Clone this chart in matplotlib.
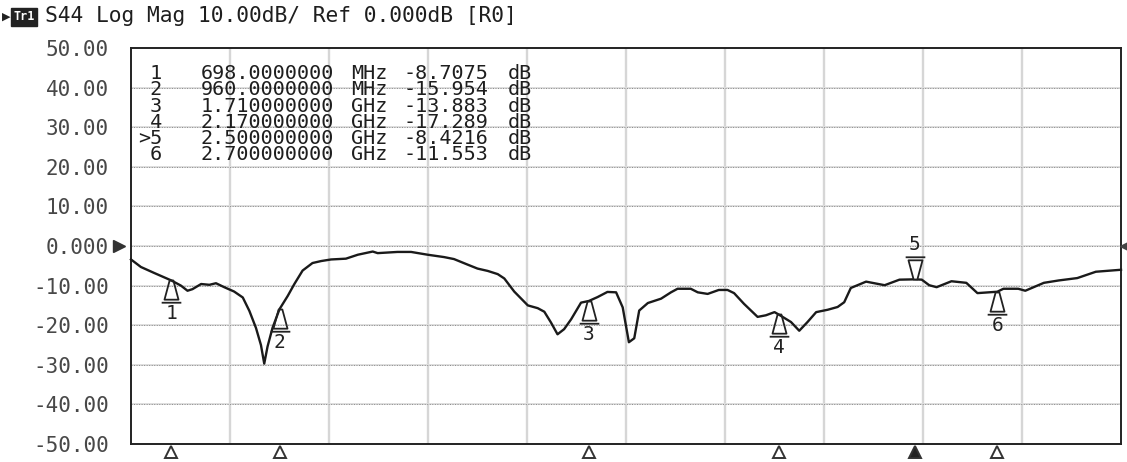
import matplotlib
matplotlib.use("Agg")
import matplotlib.pyplot as plt
from matplotlib.path import Path

# ---------------- data ----------------
freq_mhz = [600, 624, 656, 698, 721, 737, 749, 770, 790, 806, 826, 850, 871, 887, 903,
            915, 923, 931, 943, 960, 980, 996, 1016, 1040, 1061, 1085, 1121, 1150, 1186,
            1198, 1246, 1279, 1319, 1359, 1383, 1416, 1440, 1465, 1489, 1505, 1529, 1562,
            1586, 1602, 1618, 1634, 1650, 1667, 1691, 1710, 1731, 1755, 1776, 1792, 1807,
            1820, 1832, 1853, 1885, 1909, 1925, 1957, 1974, 1998, 2025, 2046, 2062, 2086,
            2119, 2139, 2160, 2170, 2200, 2220, 2240, 2261, 2289, 2313, 2329, 2345, 2382,
            2427, 2463, 2500, 2517, 2535, 2553, 2589, 2625, 2652, 2700, 2715, 2751, 2768,
            2813, 2849, 2894, 2939, 3000]
s44_db = [-3.4, -5.3, -6.8, -8.71, -10.0, -11.3, -10.9, -9.6, -9.8, -9.4, -10.4, -11.5, -13.0,
          -16.4, -20.7, -25.0, -29.7, -25.4, -20.7, -15.95, -12.6, -9.6, -6.2, -4.3, -3.8,
          -3.4, -3.2, -2.2, -1.4, -1.8, -1.5, -1.5, -2.2, -2.8, -3.3, -4.7, -5.7, -6.3, -7.1,
          -8.2, -11.5, -15.0, -15.7, -16.6, -19.3, -22.3, -21.0, -18.5, -14.3, -13.88, -12.9,
          -11.6, -11.7, -15.5, -24.3, -23.3, -16.3, -14.4, -13.3, -11.7, -10.8, -10.8, -11.7,
          -12.1, -11.1, -11.1, -11.9, -14.6, -17.9, -17.5, -16.7, -17.29, -19.2, -21.4, -19.2,
          -16.7, -16.1, -15.4, -14.2, -10.6, -9.0, -9.9, -8.5, -8.42, -8.5, -9.9, -10.4, -8.9,
          -9.3, -11.9, -11.55, -10.8, -10.8, -11.3, -9.3, -8.7, -8.1, -6.5, -6.0]

marker_ids = ["1", "2", "3", "4", "5", "6"]
marker_freq_mhz = [698, 960, 1710, 2170, 2500, 2700]
marker_db = [-8.7075, -15.954, -13.883, -17.289, -8.4216, -11.553]
marker_freq_text = ["698.0000000", "960.0000000", "1.710000000",
                    "2.170000000", "2.500000000", "2.700000000"]
marker_unit_text = ["MHz", "MHz", "GHz", "GHz", "GHz", "GHz"]
marker_db_text = ["-8.7075", "-15.954", "-13.883", "-17.289", "-8.4216", "-11.553"]
active_marker = "5"

y_ticks = [50, 40, 30, 20, 10, 0, -10, -20, -30, -40, -50]
y_tick_labels = ["50.00", "40.00", "30.00", "20.00", "10.00", "0.000",
                 "-10.00", "-20.00", "-30.00", "-40.00", "-50.00"]
x_start, x_stop, x_divs = 600, 3000, 10

title_text = "S44 Log Mag 10.00dB/ Ref 0.000dB [R0]"
trace_name = "Tr1"

# ---------------- figure ----------------
W, H = 1127, 462
fig = plt.figure(figsize=(W / 100, H / 100), dpi=100)
fig.patch.set_facecolor("white")
L, R, T, B = 131, 1121, 48, 444
ax = fig.add_axes([L / W, 1 - B / H, (R - L) / W, (B - T) / H])
ax.set_xlim(x_start, x_stop)
ax.set_ylim(-50, 50)
ax.set_facecolor("white")

mono = "DejaVu Sans Mono"

# grid
step = (x_stop - x_start) / x_divs
for i in range(1, x_divs):
    ax.axvline(x_start + i * step, color="#d6d6d6", lw=1.7, zorder=1)
for yv in y_ticks[1:-1]:
    ax.axhline(yv, color="#dedede", lw=1.4, zorder=1)
    ax.axhline(yv, color="#8a8a8a", lw=0.7, ls=(0, (1, 1.6)), zorder=1.1)

# trace
ax.plot(freq_mhz, s44_db, color="#1a1a1a", lw=1.7, zorder=3, clip_on=False)

# markers on trace
up_path = Path([(-0.08, 0), (0.08, 0), (0.3, -0.82), (-0.3, -0.82), (-0.08, 0),
                (-0.42, -0.95), (0.42, -0.95)],
               [Path.MOVETO, Path.LINETO, Path.LINETO, Path.LINETO, Path.CLOSEPOLY,
                Path.MOVETO, Path.LINETO])
down_path = Path([(x, -y) for x, y in up_path.vertices], up_path.codes)
for mid, f, d in zip(marker_ids, marker_freq_mhz, marker_db):
    if mid == active_marker:
        ax.plot([f], [d], marker=down_path, markersize=32, markerfacecolor="white",
                markeredgecolor="#222", markeredgewidth=1.3, zorder=4, ls="none")
        ax.annotate(mid, (f, d), xytext=(0, 25), textcoords="offset points",
                    ha="center", va="center", fontsize=14, family=mono, color="#222")
    else:
        ax.plot([f], [d], marker=up_path, markersize=32, markerfacecolor="none",
                markeredgecolor="#222", markeredgewidth=1.3, zorder=4, ls="none")
        ax.annotate(mid, (f, d), xytext=(0, -24), textcoords="offset points",
                    ha="center", va="center", fontsize=14, family=mono, color="#222")

# bottom marker indicators
xt = ax.get_xaxis_transform()
for mid, f in zip(marker_ids, marker_freq_mhz):
    filled = mid == active_marker
    ax.plot([f], [-0.021], marker="^", markersize=9, transform=xt, clip_on=False,
            markerfacecolor="#222" if filled else "white", markeredgecolor="#333",
            markeredgewidth=1.4, zorder=5)

# reference level pointer and right edge marks
yt = ax.get_yaxis_transform()
ax.plot([-0.012], [0], marker=">", markersize=9, color="#333", transform=yt,
        clip_on=False, zorder=5)
ax.plot([1.004], [0.5], marker="<", markersize=7, color="#444",
        transform=ax.transAxes, clip_on=False, zorder=5)

# marker table (one multi-line text per column)
ids_col = "\n".join((">" if m == active_marker else " ") + m for m in marker_ids)
freq_col = "\n".join(marker_freq_text)
unit_col = "\n".join(marker_unit_text)
val_col = "\n".join(marker_db_text)
db_col = "\n".join(["dB"] * len(marker_ids))
table_top = 1 - 64 / H
tkw = dict(family=mono, fontsize=14.5, color="#1e1e1e", va="top", linespacing=0.82)
fig.text(162 / W, table_top, ids_col, ha="right", **tkw)
fig.text(267 / W, table_top, freq_col, ha="center", **tkw)
fig.text(369 / W, table_top, unit_col, ha="center", **tkw)
fig.text(446 / W, table_top, val_col, ha="center", **tkw)
fig.text(520 / W, table_top, db_col, ha="center", **tkw)

# axes look
ax.set_xticks([])
ax.set_yticks(y_ticks)
ax.set_yticklabels(y_tick_labels, family=mono, fontsize=15, color="#484848")
ax.tick_params(axis="y", length=0, pad=16)
for s in ax.spines.values():
    s.set_color("#222")
    s.set_linewidth(1.4)

# title line
fig.text(2 / W, 1 - 17 / H, "\u25B6", fontsize=8, color="#222", va="center", ha="left")
fig.text(13 / W, 1 - 17 / H, trace_name, family=mono, fontsize=8.5, color="white",
         va="center", ha="left", fontweight="bold",
         bbox=dict(boxstyle="square,pad=0.2", fc="#222", ec="#222"))
fig.text(45 / W, 1 - 16 / H, title_text, family=mono, fontsize=15.3, color="#1e1e1e",
         va="center", ha="left")

fig.savefig("out.png", dpi=100, facecolor="white")
